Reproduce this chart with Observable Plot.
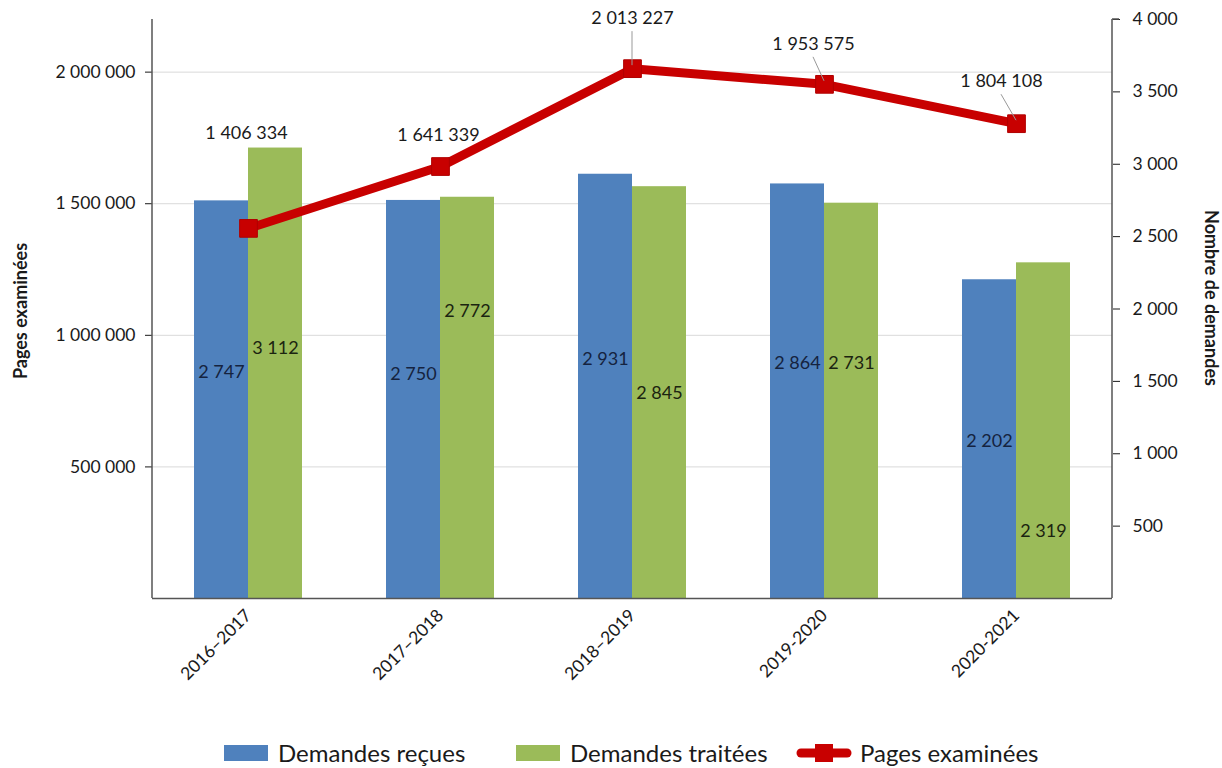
<!DOCTYPE html>
<html>
<head>
<meta charset="utf-8">
<script src="https://cdn.jsdelivr.net/npm/d3@7"></script>
<script src="https://cdn.jsdelivr.net/npm/@observablehq/plot@0.6"></script>
<style>
  html, body { margin: 0; padding: 0; background: #fff; }
  body { width: 1222px; height: 768px; overflow: hidden; font-family: Lato, "Open Sans", sans-serif; }
  #legend { height: 43px; font-size: 24px; color: #1a1a1a; }
  #legend .item { display: flex; align-items: center; position: absolute; }
  #legend .sw { width: 44px; height: 16px; margin-right: 10px; }
</style>
</head>
<body>
<div id="chart"></div>
<div id="legend"></div>
<script>
// ---------- data ----------
const periods = ["2016–2017", "2017–2018", "2018–2019", "2019-2020", "2020-2021"];
const demandesRecues = [2747, 2750, 2931, 2864, 2202];
const demandesTraitees = [3112, 2772, 2845, 2731, 2319];
const pagesExaminees = [1406334, 1641339, 2013227, 1953575, 1804108];
const leftTicks = [500000, 1000000, 1500000, 2000000];
const rightTicks = [500, 1000, 1500, 2000, 2500, 3000, 3500, 4000];
const seriesNames = ["Demandes reçues", "Demandes traitées", "Pages examinées"];

// ---------- layout (label anchors, in request units / pixel offsets) ----------
const labelAtRecues = [1561, 1548, 1651, 1623, 1085];
const labelAtTraitees = [1727, 1983, 1416, 1623, 463];
const lineLabelOffsets = [[-2, -95], [-2, -31], [0, -50], [-11, -40], [-15, -42]];
const leaderFor = [false, false, true, true, true];

const colors = { recues: "#4F81BD", traitees: "#9BBB59", pages: "#C80000" };
const leftMax = 2200000, rightMax = 4000;
const k = leftMax / rightMax;

const fr = d3.formatLocale({ decimal: ",", thousands: " ", grouping: [3], currency: ["", " €"] });
const fmt = fr.format(",d");

const rows = periods.map((p, i) => ({
  period: p,
  recues: demandesRecues[i],
  traitees: demandesTraitees[i],
  pages: pagesExaminees[i],
  labR: labelAtRecues[i],
  labT: labelAtTraitees[i]
}));

const font = "Lato, 'Open Sans', sans-serif";

const lineLabelMarks = rows.map((d, i) =>
  Plot.text([d], {
    x: "period", y: "pages", text: r => fmt(r.pages),
    dx: lineLabelOffsets[i][0], dy: lineLabelOffsets[i][1],
    fontSize: 18, fill: "#1a1a1a"
  })
);

const chart = Plot.plot({
  width: 1222, height: 725,
  marginLeft: 152, marginRight: 110, marginTop: 19, marginBottom: 127,
  style: { fontFamily: font, fontSize: "17px", color: "#1a1a1a", background: "#fff" },
  x: { domain: periods, paddingInner: 0.4375, paddingOuter: 0.21875, label: null },
  y: { domain: [0, leftMax], label: null },
  marks: [
    Plot.gridY(leftTicks, { stroke: "#d9d9d9", strokeOpacity: 1 }),
    Plot.barY(rows, { x: "period", y: d => d.recues * k, fill: colors.recues, insetRight: 54 }),
    Plot.barY(rows, { x: "period", y: d => d.traitees * k, fill: colors.traitees, insetLeft: 54 }),
    Plot.text(rows, { x: "period", y: d => d.labR * k, text: d => fmt(d.recues), dx: -27, fontSize: 18, fill: "#15233f" }),
    Plot.text(rows, { x: "period", y: d => d.labT * k, text: d => fmt(d.traitees), dx: 27, fontSize: 18, fill: "#1b2410" }),
    Plot.ruleY([0], { stroke: "#555", strokeWidth: 1.5 }),
    Plot.axisX({ tickSize: 0, tickRotate: -45, tickPadding: 14, fontSize: 17.5, label: null }),
    Plot.axisY(leftTicks, { anchor: "left", tickFormat: fmt, tickSize: 7, tickPadding: 10, fontSize: 17.5, label: null }),
    Plot.axisY(rightTicks.map(v => v * k), { anchor: "right", tickFormat: d => fmt(Math.round(d / k)), tickSize: 7, tickPadding: 13, fontSize: 17.5, label: null }),
    Plot.text(["Pages examinées"], { frameAnchor: "left", textAnchor: "middle", rotate: -90, dx: -131, dy: 2, fontWeight: "bold", fontSize: 18, fill: "#1a1a1a" }),
    Plot.text(["Nombre de demandes"], { frameAnchor: "right", textAnchor: "middle", rotate: 90, dx: 98, dy: -11, fontWeight: "bold", fontSize: 18, fill: "#1a1a1a" }),
    Plot.lineY(rows, { x: "period", y: "pages", stroke: colors.pages, strokeWidth: 9, strokeLinejoin: "miter" }),
    Plot.dot(rows, { x: "period", y: "pages", symbol: "square", r: 10, fill: colors.pages, stroke: "#b00000", strokeWidth: 1 }),
    ...lineLabelMarks
  ]
});
document.getElementById("chart").appendChild(chart);

// axis lines and leader lines, positioned through the chart's scales
const svg = d3.select(chart);
const xs = chart.scale("x"), ys = chart.scale("y");
const y0 = ys.apply(0), yTop = ys.apply(leftMax);
const xL = 152, xR = 1222 - 110;
const g = svg.append("g").attr("stroke", "#555").attr("stroke-width", 1.5);
g.append("line").attr("x1", xL).attr("x2", xL).attr("y1", yTop).attr("y2", y0);
g.append("line").attr("x1", xR).attr("x2", xR).attr("y1", yTop).attr("y2", y0);
g.append("line").attr("x1", xR).attr("x2", xR + 7).attr("y1", yTop).attr("y2", yTop);
const lg = svg.append("g").attr("stroke", "#999").attr("stroke-width", 1);
rows.forEach((d, i) => {
  if (!leaderFor[i]) return;
  const px = xs.apply(d.period) + xs.bandwidth / 2;
  const py = ys.apply(d.pages);
  const [dx, dy] = lineLabelOffsets[i];
  lg.append("line").attr("x1", px + dx).attr("y1", py + dy + 13).attr("x2", px).attr("y2", py - 3);
});

// legend
const legend = d3.select("#legend");
const items = [
  { name: seriesNames[0], type: "bar", color: colors.recues, left: 224 },
  { name: seriesNames[1], type: "bar", color: colors.traitees, left: 516 },
  { name: seriesNames[2], type: "line", color: colors.pages, left: 796 }
];
items.forEach(it => {
  const el = legend.append("div").attr("class", "item").style("left", it.left + "px").style("top", "738px");
  if (it.type === "bar") {
    el.append("div").attr("class", "sw").style("background", it.color);
  } else {
    const s = el.append("svg").attr("width", 56).attr("height", 20).style("margin-right", "8px");
    s.append("line").attr("x1", 5).attr("x2", 51).attr("y1", 10).attr("y2", 10)
      .attr("stroke", it.color).attr("stroke-width", 9).attr("stroke-linecap", "round");
    s.append("rect").attr("x", 19).attr("y", 1).attr("width", 18).attr("height", 18).attr("fill", it.color);
  }
  el.append("span").text(it.name);
});
</script>
</body>
</html>
